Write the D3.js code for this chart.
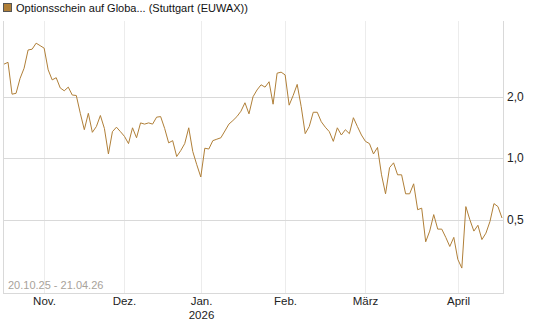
<!DOCTYPE html>
<html>
<head>
<meta charset="utf-8">
<script src="https://cdn.jsdelivr.net/npm/d3@7"></script>
<style>
  body { margin: 0; background: #fff; }
  svg { display: block; font-family: "Liberation Sans", Arial, sans-serif; }
</style>
</head>
<body>
<svg></svg>
<script>
// daily closing prices, one per trading day, 20.10.25 - 21.04.26
const prices = [
  2.89, 2.95, 2.06, 2.08, 2.46, 2.76, 3.39, 3.42, 3.66, 3.56,
  3.46, 2.71, 2.42, 2.48, 2.21, 2.14, 2.23, 2.04, 2.03, 1.66,
  1.38, 1.66, 1.34, 1.43, 1.62, 1.40, 1.05, 1.35, 1.42, 1.35,
  1.28, 1.18, 1.41, 1.26, 1.49, 1.47, 1.49, 1.47, 1.59, 1.60,
  1.40, 1.19, 1.22, 1.02, 1.09, 1.18, 1.41, 1.08, 0.93, 0.81,
  1.12, 1.11, 1.22, 1.24, 1.26, 1.36, 1.47, 1.53, 1.60, 1.70,
  1.87, 1.65, 2.00, 2.16, 2.29, 2.23, 2.37, 1.84, 2.61, 2.64,
  2.56, 1.82, 2.03, 2.30, 1.79, 1.32, 1.43, 1.68, 1.68, 1.51,
  1.42, 1.35, 1.21, 1.41, 1.30, 1.38, 1.32, 1.58, 1.43, 1.30,
  1.21, 1.18, 1.05, 1.13, 0.83, 0.67, 0.90, 0.95, 0.83, 0.83,
  0.67, 0.67, 0.75, 0.56, 0.57, 0.39, 0.44, 0.53, 0.45, 0.45,
  0.41, 0.37, 0.41, 0.32, 0.29, 0.58, 0.50, 0.44, 0.47, 0.40,
  0.43, 0.49, 0.60, 0.58, 0.51
];
// month labels and the trading-day index where each month starts
const monthLabels = ["Nov.", "Dez.", "Jan.", "Feb.", "März", "April"];
const monthIdx = [10, 30, 49, 70, 90, 113];
const yearLabels = ["", "", "2026", "", "", ""];
const yTicks = [0.5, 1.0, 2.0];

const legendText = "Optionsschein auf Globa... (Stuttgart (EUWAX))";
const rangeText = "20.10.25 - 21.04.26";

const width = 545, height = 327;
const svg = d3.select("svg").attr("width", width).attr("height", height);

const plotLeft = 3, plotRight = 503, plotTop = 21, plotBottom = 293;
const lineColor = "#b07f38";

const x = d3.scaleLinear().domain([0, prices.length - 1]).range([plotLeft + 1, plotRight - 1]);
const y = d3.scaleLog().domain([0.219, 4.7]).range([plotBottom, plotTop]);

// vertical grid (months)
svg.append("g").selectAll("line")
    .data(monthIdx)
    .enter().append("line")
    .attr("x1", d => Math.round(x(d)) + 0.5)
    .attr("x2", d => Math.round(x(d)) + 0.5)
    .attr("y1", plotTop).attr("y2", plotBottom)
    .attr("stroke", "#ececec");

// horizontal grid
svg.append("g").selectAll("line")
    .data(yTicks)
    .enter().append("line")
    .attr("x1", plotLeft).attr("x2", plotRight)
    .attr("y1", d => Math.round(y(d)) + 0.5)
    .attr("y2", d => Math.round(y(d)) + 0.5)
    .attr("stroke", "#d9d9d9");

// frame: left, right, bottom
svg.append("line").attr("x1", plotLeft + 0.5).attr("x2", plotLeft + 0.5).attr("y1", plotTop).attr("y2", plotBottom + 1)
    .attr("stroke", "#d9d9d9");
svg.append("line").attr("x1", plotRight + 0.5).attr("x2", plotRight + 0.5).attr("y1", plotTop).attr("y2", plotBottom + 1)
    .attr("stroke", "#d9d9d9");
svg.append("line").attr("x1", plotLeft).attr("x2", plotRight + 1).attr("y1", plotBottom + 0.5).attr("y2", plotBottom + 0.5)
    .attr("stroke", "#d9d9d9");

// y labels (right side)
svg.append("g").selectAll("text")
    .data(yTicks)
    .enter().append("text")
    .attr("x", plotRight + 4)
    .attr("y", d => y(d) + 4)
    .attr("font-size", "12px")
    .attr("fill", "#222")
    .text(d => d3.format(".1f")(d).replace(".", ","));

// x labels
svg.append("g").selectAll("text")
    .data(monthIdx)
    .enter().append("text")
    .attr("x", d => Math.round(x(d)) + 0.5)
    .attr("y", plotBottom + 12)
    .attr("text-anchor", "middle")
    .attr("font-size", "11.5px")
    .attr("fill", "#222")
    .text((d, i) => monthLabels[i]);

svg.append("g").selectAll("text")
    .data(monthIdx)
    .enter().append("text")
    .attr("x", d => Math.round(x(d)) + 0.5)
    .attr("y", plotBottom + 26)
    .attr("text-anchor", "middle")
    .attr("font-size", "11.5px")
    .attr("fill", "#222")
    .text((d, i) => yearLabels[i]);

// date range
svg.append("text")
    .attr("x", 8).attr("y", plotBottom - 4)
    .attr("font-size", "11px")
    .attr("fill", "#a8a29a")
    .text(rangeText);

// price line
const line = d3.line()
    .x((d, i) => x(i))
    .y(d => y(d));

svg.append("path")
    .datum(prices)
    .attr("d", line)
    .attr("fill", "none")
    .attr("stroke", lineColor)
    .attr("stroke-width", 1);

// legend
svg.append("rect")
    .attr("x", 3.5).attr("y", 3.5).attr("width", 8).attr("height", 8)
    .attr("fill", lineColor).attr("stroke", "#555");
svg.append("text")
    .attr("x", 16).attr("y", 12)
    .attr("font-size", "11px")
    .attr("fill", "#111")
    .text(legendText);
</script>
</body>
</html>
